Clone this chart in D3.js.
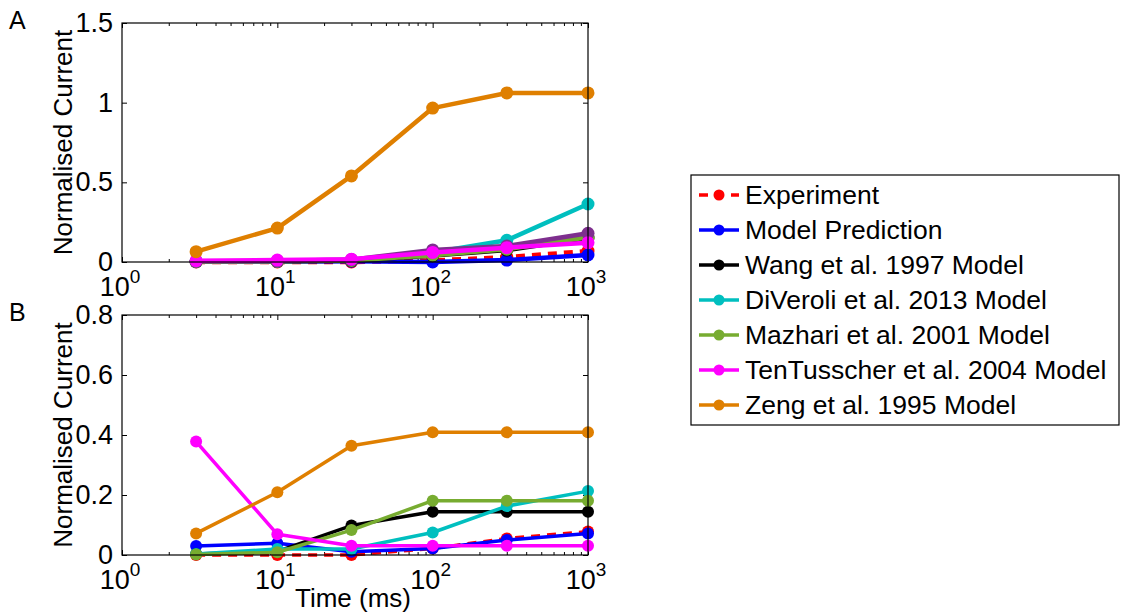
<!DOCTYPE html>
<html>
<head>
<meta charset="utf-8">
<script src="https://cdn.jsdelivr.net/npm/d3@7"></script>
<style>
	body { margin: 0; background: #fff; }
	svg text { font-family: "Liberation Sans", Arial, sans-serif; fill: #000; }
	.axis path { display: none; }
	.axis line { stroke: #000; stroke-width: 1; }
</style>
</head>
<body>
<script>
// time points (ms)
var times = [3, 10, 30, 100, 300, 1000];

// panel A values
var expA = [0.0, 0.0, 0.0, 0.01, 0.03, 0.069];
var predA = [0.002, 0.003, 0.005, 0.0, 0.012, 0.044];
var wangA = [0.003, 0.005, 0.008, 0.04, 0.075, 0.15];
var diveroliA = [0.004, 0.006, 0.012, 0.06, 0.136, 0.364];
var mazhariA = [0.003, 0.005, 0.01, 0.043, 0.08, 0.155];
var extraA = [0.004, 0.006, 0.015, 0.076, 0.1, 0.18];
var tentusscherA = [0.008, 0.012, 0.018, 0.06, 0.09, 0.121];
var zengA = [0.065, 0.213, 0.54, 0.966, 1.061, 1.061];

// panel B values
var expB = [0.0, 0.0, 0.0, 0.022, 0.055, 0.078];
var predB = [0.03, 0.039, 0.011, 0.022, 0.05, 0.072];
var wangB = [0.003, 0.012, 0.098, 0.144, 0.144, 0.144];
var diveroliB = [0.003, 0.02, 0.02, 0.075, 0.163, 0.213];
var mazhariB = [0.002, 0.009, 0.083, 0.181, 0.181, 0.181];
var tentusscherB = [0.378, 0.069, 0.031, 0.031, 0.031, 0.031];
var zengB = [0.072, 0.209, 0.364, 0.409, 0.409, 0.409];

var legendNames = ['Experiment', 'Model Prediction', 'Wang et al. 1997 Model', 'DiVeroli et al. 2013 Model',
	'Mazhari et al. 2001 Model', 'TenTusscher et al. 2004 Model', 'Zeng et al. 1995 Model'];
var colors = ['#ff0000', '#0000ff', '#000000', '#00bfbf', '#77ac30', '#ff00ff', '#df7f00'];
var extraColor = '#7e2f8e';

var yTicksA = [0, 0.5, 1, 1.5];
var yTicksB = [0, 0.2, 0.4, 0.6, 0.8];
var xTicks = [1, 10, 100, 1000];

var W = 1121, H = 613;
var left = 122, right = 588;

var svg = d3.select('body').append('svg')
	.attr('width', W)
	.attr('height', H);

var x = d3.scaleLog().domain([1, 1000]).range([left, right]);

var minorTicks = [];
[1, 10, 100].forEach(function(d) {
	for (var k = 2; k < 10; k++) minorTicks.push(d * k);
});

function drawPanel(opts) {
	var y = d3.scaleLinear().domain([0, opts.ymax]).range([opts.bottom, opts.top]);
	var g = svg.append('g');

	// ticks, inward, on all four sides
	var h = opts.bottom - opts.top;
	g.append('g').attr('class', 'axis').attr('transform', 'translate(0,' + opts.bottom + ')')
		.call(d3.axisBottom(x).tickValues(xTicks).tickSize(-5).tickFormat(''));
	g.append('g').attr('class', 'axis').attr('transform', 'translate(0,' + opts.bottom + ')')
		.call(d3.axisBottom(x).tickValues(minorTicks).tickSize(-3).tickFormat(''));
	g.append('g').attr('class', 'axis').attr('transform', 'translate(0,' + opts.top + ')')
		.call(d3.axisTop(x).tickValues(xTicks).tickSize(-5).tickFormat(''));
	g.append('g').attr('class', 'axis').attr('transform', 'translate(0,' + opts.top + ')')
		.call(d3.axisTop(x).tickValues(minorTicks).tickSize(-3).tickFormat(''));
	g.append('g').attr('class', 'axis').attr('transform', 'translate(' + left + ',0)')
		.call(d3.axisLeft(y).tickValues(opts.yticks).tickSize(-5).tickFormat(''));
	g.append('g').attr('class', 'axis').attr('transform', 'translate(' + right + ',0)')
		.call(d3.axisRight(y).tickValues(opts.yticks).tickSize(-5).tickFormat(''));

	// y tick labels
	g.selectAll('.ylab').data(opts.yticks).enter().append('text')
		.attr('x', left - 9)
		.attr('y', function(d) { return y(d) + 9; })
		.attr('text-anchor', 'end')
		.style('font-size', '27px')
		.text(function(d) { return d3.format('')(d); });

	// x tick labels 10^n
	xTicks.forEach(function(d) {
		var t = g.append('text')
			.attr('x', x(d) - 2)
			.attr('y', opts.bottom + 34)
			.attr('text-anchor', 'middle')
			.style('font-size', '27px');
		t.append('tspan').text('10');
		t.append('tspan').attr('dy', -13).style('font-size', '19px').text(Math.round(Math.log10(d)));
	});

	// y label
	g.append('text')
		.attr('transform', 'translate(' + 72 + ',' + (opts.top + h / 2) + ') rotate(-90)')
		.attr('text-anchor', 'middle')
		.style('font-size', '26px')
		.text('Normalised Current');

	// panel letter
	g.append('text')
		.attr('x', 9)
		.attr('y', opts.top + 6)
		.style('font-size', '25px')
		.text(opts.letter);

	var line = d3.line()
		.x(function(d, i) { return x(times[i]); })
		.y(function(d) { return y(d); });

	opts.series.forEach(function(s) {
		g.append('path')
			.datum(s.values)
			.attr('d', line)
			.attr('fill', 'none')
			.attr('stroke', s.color)
			.attr('stroke-width', opts.lw)
			.attr('stroke-dasharray', s.dashed ? '9,7' : null)
			.attr('stroke-linejoin', 'round');
		g.selectAll(null).data(s.values).enter().append('circle')
			.attr('cx', function(d, i) { return x(times[i]); })
			.attr('cy', function(d) { return y(d); })
			.attr('r', opts.r)
			.attr('fill', s.color);
	});

	// frame
	g.append('rect')
		.attr('x', left)
		.attr('y', opts.top)
		.attr('width', right - left)
		.attr('height', h)
		.attr('fill', 'none')
		.attr('stroke', '#000')
		.attr('stroke-width', 1.2);
}

drawPanel({
	letter: 'A', top: 23, bottom: 262, ymax: 1.5, yticks: yTicksA, lw: 4.5, r: 6.5,
	series: [
		{ values: expA, color: colors[0], dashed: true },
		{ values: predA, color: colors[1] },
		{ values: wangA, color: colors[2] },
		{ values: diveroliA, color: colors[3] },
		{ values: mazhariA, color: colors[4] },
		{ values: extraA, color: extraColor },
		{ values: tentusscherA, color: colors[5] },
		{ values: zengA, color: colors[6] }
	]
});

drawPanel({
	letter: 'B', top: 315, bottom: 555, ymax: 0.8, yticks: yTicksB, lw: 3.5, r: 6,
	series: [
		{ values: expB, color: colors[0], dashed: true },
		{ values: predB, color: colors[1] },
		{ values: wangB, color: colors[2] },
		{ values: diveroliB, color: colors[3] },
		{ values: mazhariB, color: colors[4] },
		{ values: tentusscherB, color: colors[5] },
		{ values: zengB, color: colors[6] }
	]
});

// x axis label
svg.append('text')
	.attr('x', 353)
	.attr('y', 607)
	.attr('text-anchor', 'middle')
	.style('font-size', '26px')
	.text('Time (ms)');

// legend
var legend = svg.append('g');
legend.append('rect')
	.attr('x', 691)
	.attr('y', 175)
	.attr('width', 428)
	.attr('height', 250)
	.attr('fill', '#fff')
	.attr('stroke', '#000')
	.attr('stroke-width', 1.2);

var rows = legend.selectAll('.row').data(legendNames).enter().append('g')
	.attr('transform', function(d, i) { return 'translate(0,' + (195 + i * 35) + ')'; });

rows.append('line')
	.attr('x1', 699).attr('x2', 739)
	.attr('stroke', function(d, i) { return colors[i]; })
	.attr('stroke-width', 3.5)
	.attr('stroke-dasharray', function(d, i) { return i === 0 ? '9,7' : null; });
rows.append('circle')
	.attr('cx', 719)
	.attr('r', 5.5)
	.attr('fill', function(d, i) { return colors[i]; });
rows.append('text')
	.attr('x', 745)
	.attr('y', 9)
	.style('font-size', '26.5px')
	.text(function(d) { return d; });
</script>
</body>
</html>
